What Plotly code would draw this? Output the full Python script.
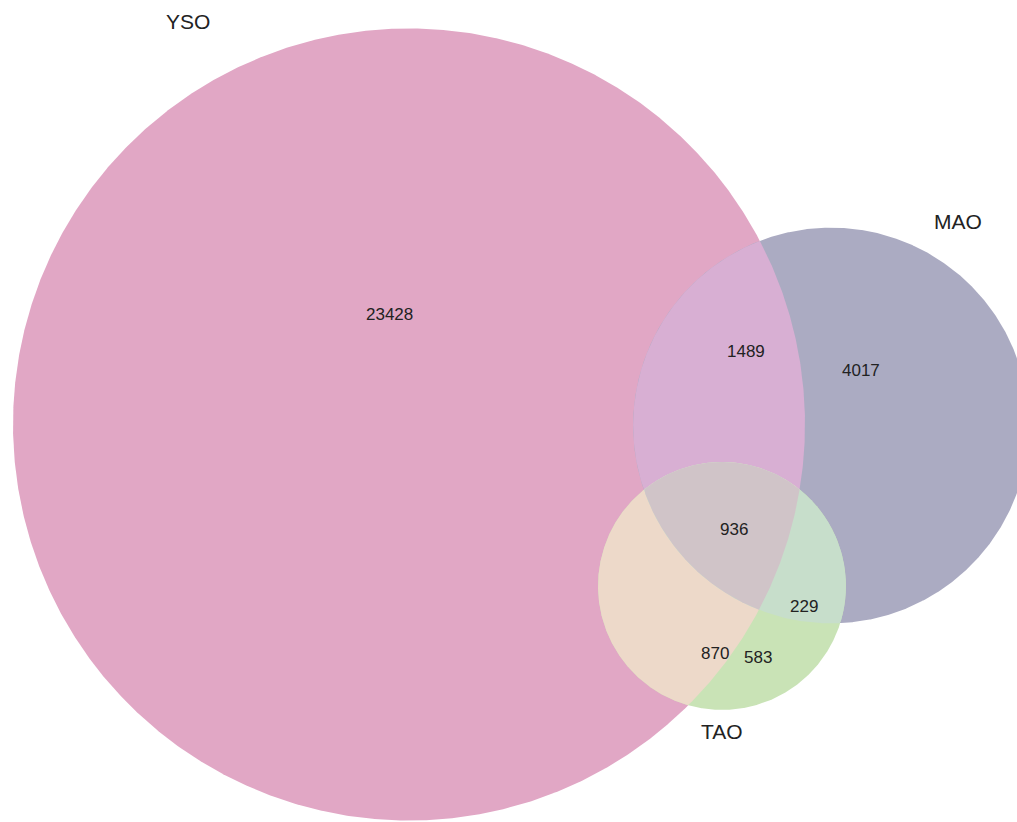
import numpy as np
import plotly.graph_objects as go

# ---- data ----
set_names = ["YSO", "MAO", "TAO"]
subset_keys = ["100", "010", "001", "110", "101", "011", "111"]
subset_values = [23428, 4017, 583, 1489, 870, 229, 936]

# ---- layout / style ----
W, H = 1017, 822
px_per_sqrt = 2.4225               # circle radius = px_per_sqrt * sqrt(set size)
centers = [(409.0, 424.5), (831.0, 425.5), (722.0, 586.0)]
region_colors = {
    "100": "#E1A7C5", "010": "#ABABC2", "001": "#C9E3B6",
    "110": "#D8AFD3", "101": "#EDD9C9", "011": "#C7DECB",
    "111": "#D0C4C8",
}
subset_label_pos = {
    "100": (389, 314), "010": (861, 370), "001": (758, 657),
    "110": (746, 351), "101": (715, 653), "011": (804, 606),
    "111": (734, 529),
}
set_label_pos = [(188, 21), (958, 221), (722, 731)]
text_color = "#222222"
font_family = "Liberation Sans, Arial, sans-serif"

# ---- geometry from data ----
values = dict(zip(subset_keys, subset_values))
set_sizes = [sum(v for k, v in values.items() if k[i] == "1") for i in range(3)]
radii = [px_per_sqrt * np.sqrt(s) for s in set_sizes]

N = 1440
theta = np.linspace(0, 2 * np.pi, N, endpoint=False)


def circle_pts(i):
    cx, cy = centers[i]
    r = radii[i]
    return np.column_stack([cx + r * np.cos(theta), cy + r * np.sin(theta)])


def inside(pts, j, tol=1e-6):
    cx, cy = centers[j]
    return np.hypot(pts[:, 0] - cx, pts[:, 1] - cy) <= radii[j] + tol


def circ_intersections(i, j):
    (x0, y0), (x1, y1) = centers[i], centers[j]
    r0, r1 = radii[i], radii[j]
    d = np.hypot(x1 - x0, y1 - y0)
    if d > r0 + r1 or d < abs(r0 - r1):
        return np.empty((0, 2))
    a = (r0 ** 2 - r1 ** 2 + d ** 2) / (2 * d)
    h = np.sqrt(max(r0 ** 2 - a ** 2, 0))
    xm, ym = x0 + a * (x1 - x0) / d, y0 + a * (y1 - y0) / d
    return np.array([[xm + h * (y1 - y0) / d, ym - h * (x1 - x0) / d],
                     [xm - h * (y1 - y0) / d, ym + h * (x1 - x0) / d]])


def intersection_polygon(idx):
    pts = []
    for i in idx:
        p = circle_pts(i)
        mask = np.ones(len(p), bool)
        for j in idx:
            if j != i:
                mask &= inside(p, j)
        pts.append(p[mask])
    for a in range(len(idx)):
        for b in range(a + 1, len(idx)):
            ip = circ_intersections(idx[a], idx[b])
            if len(ip):
                mask = np.ones(len(ip), bool)
                for j in idx:
                    if j not in (idx[a], idx[b]):
                        mask &= inside(ip, j, tol=1e-3)
                pts.append(ip[mask])
    pts = np.vstack(pts)
    c = pts.mean(axis=0)
    ang = np.arctan2(pts[:, 1] - c[1], pts[:, 0] - c[0])
    pts = pts[np.argsort(ang)]
    return pts


fig = go.Figure()


def add_poly(pts, color):
    xs = list(pts[:, 0]) + [pts[0, 0]]
    ys = list(pts[:, 1]) + [pts[0, 1]]
    fig.add_trace(go.Scatter(x=xs, y=ys, mode="lines", fill="toself",
                             fillcolor=color, line=dict(width=0, color=color),
                             hoverinfo="skip", showlegend=False))


# single circles
for i, key in enumerate(["100", "010", "001"]):
    add_poly(circle_pts(i), region_colors[key])
# pairwise lenses
for (i, j), key in zip([(0, 1), (0, 2), (1, 2)], ["110", "101", "011"]):
    add_poly(intersection_polygon([i, j]), region_colors[key])
# triple
add_poly(intersection_polygon([0, 1, 2]), region_colors["111"])

annotations = []
for key in subset_keys:
    x, y = subset_label_pos[key]
    annotations.append(dict(x=x, y=y, xref="x", yref="y", text=str(values[key]),
                            showarrow=False, font=dict(size=17, color=text_color,
                                                       family=font_family)))
for name, (x, y) in zip(set_names, set_label_pos):
    annotations.append(dict(x=x, y=y, xref="x", yref="y", text=name,
                            showarrow=False, font=dict(size=21, color=text_color,
                                                       family=font_family)))

fig.update_layout(
    width=W, height=H,
    margin=dict(l=0, r=0, t=0, b=0),
    paper_bgcolor="white", plot_bgcolor="white",
    xaxis=dict(range=[0, W], visible=False, fixedrange=True),
    yaxis=dict(range=[H, 0], visible=False, fixedrange=True),
    annotations=annotations,
    showlegend=False,
    hovermode=False,
)

fig.write_html(
    "out.html",
    config={"displayModeBar": False},
    post_script="document.body.style.margin='0';document.body.style.overflow='hidden';",
)
